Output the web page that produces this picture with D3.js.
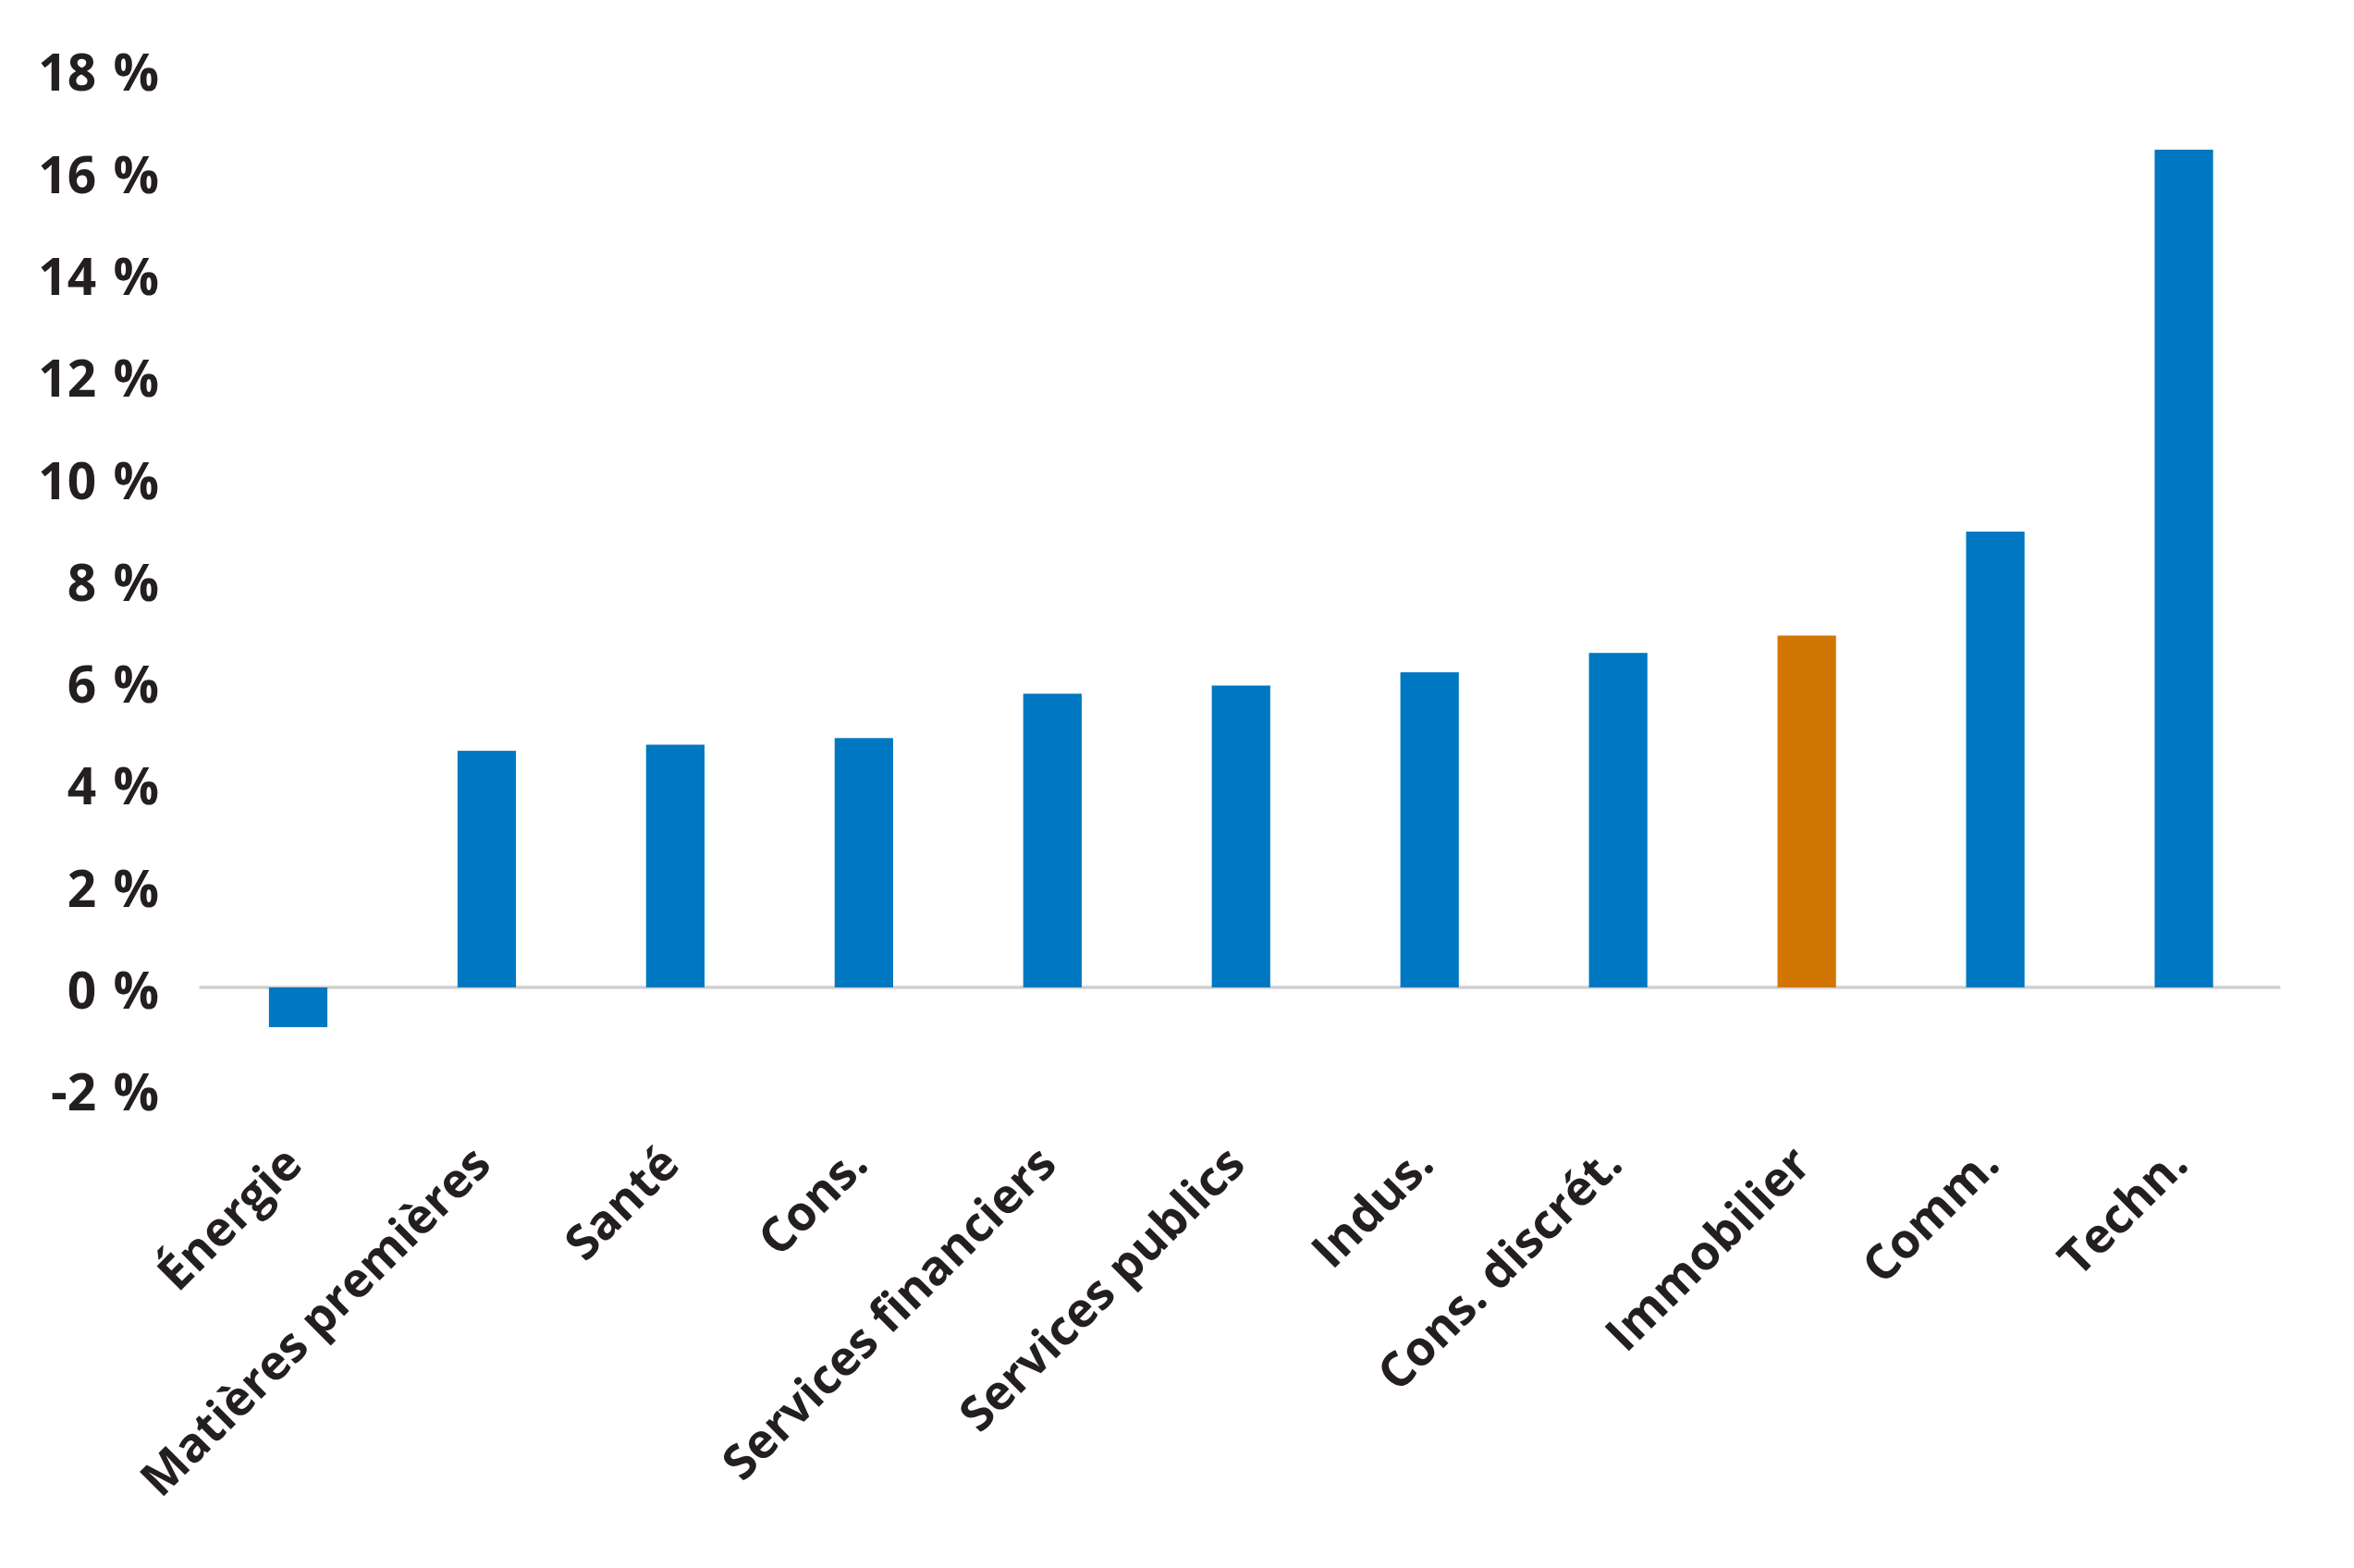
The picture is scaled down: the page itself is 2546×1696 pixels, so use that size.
<!DOCTYPE html>
<html>
<head>
<meta charset="utf-8">
<script src="https://cdn.jsdelivr.net/npm/d3@7"></script>
<style>
  html, body { margin: 0; padding: 0; background: #ffffff; }
  svg { display: block; }
  text { font-family: "Open Sans", "Noto Sans", sans-serif; font-weight: 700; fill: #231f20; }
</style>
</head>
<body>
<svg id="chart" width="2546" height="1696"></svg>
<script>
// ---- data ----
const categories = ["Énergie", "Matières premières", "Santé", "Cons.", "Services financiers",
  "Services publics", "Indus.", "Cons. discrét.", "Immobilier", "Comm.", "Techn."];
const values = [-0.78, 4.64, 4.76, 4.89, 5.76, 5.92, 6.18, 6.56, 6.90, 8.94, 16.43];
const highlight = ["Immobilier"];
const yTicks = [-2, 0, 2, 4, 6, 8, 10, 12, 14, 16, 18];

// ---- styles / layout ----
const W = 2546, H = 1696;
const blue = "#0078c1", orange = "#d17603";
const yFontSize = 55;
const xFontSize = 52;

const svg = d3.select("#chart");
svg.append("rect").attr("width", W).attr("height", H).attr("fill", "#ffffff");

const x = d3.scaleBand()
  .domain(categories)
  .range([220.5, 2464.0])
  .paddingInner(0.69)
  .paddingOuter(0.345);

const y = d3.scaleLinear()
  .domain([-2, 18])
  .range([1068 + 2 * 55.15, 1068 - 18 * 55.15]);

// y axis labels
const yAxis = d3.axisLeft(y)
  .tickValues(yTicks)
  .tickSize(0)
  .tickPadding(0)
  .tickFormat(d => d + "\u2009\u2009%");

const gy = svg.append("g")
  .attr("transform", "translate(172,0)")
  .call(yAxis);
gy.select(".domain").remove();
gy.selectAll("text")
  .attr("dy", "0.41em")
  .style("font-size", yFontSize + "px")
  .style("font-family", "'Open Sans', 'Noto Sans', sans-serif")
  .style("font-weight", 700)
  .attr("fill", "#231f20");

// zero line
svg.append("line")
  .attr("x1", 217).attr("x2", 2465)
  .attr("y1", y(0)).attr("y2", y(0))
  .attr("stroke", "#d0d0d0")
  .attr("stroke-width", 3.5)
  .attr("stroke-linecap", "round");

// bars
svg.append("g").selectAll("rect")
  .data(categories.map((c, i) => ({ c, v: values[i] })))
  .join("rect")
  .attr("x", d => x(d.c))
  .attr("width", x.bandwidth())
  .attr("y", d => y(Math.max(0, d.v)))
  .attr("height", d => Math.abs(y(d.v) - y(0)))
  .attr("fill", d => highlight.includes(d.c) ? orange : blue);

// x axis category labels (rotated)
const xAxis = d3.axisBottom(x).tickSize(0).tickPadding(0);
const gx = svg.append("g")
  .attr("transform", "translate(0,1262)")
  .call(xAxis);
gx.select(".domain").remove();
gx.selectAll(".tick text")
  .attr("y", 0)
  .attr("dy", 0)
  .attr("text-anchor", "end")
  .attr("transform", "translate(7,0) rotate(-45)")
  .style("font-size", xFontSize + "px")
  .style("font-family", "'Open Sans', 'Noto Sans', sans-serif")
  .style("font-weight", 700)
  .attr("fill", "#231f20");
</script>
</body>
</html>
